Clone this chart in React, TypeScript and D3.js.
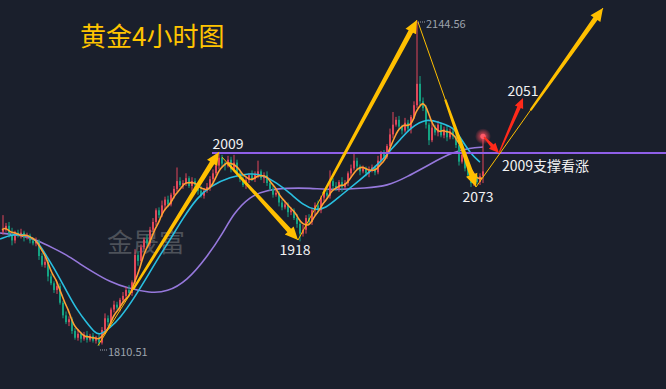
import React from 'react';
import * as d3 from 'd3';

const W = 666;
const H = 389;

// ---- candle data (gold, 4h) ----
const firstOpen = 1928;
const closes = [
  1930, 1934, 1926, 1919, 1927, 1924, 1927, 1922, 1924, 1919,
  1916, 1918, 1903, 1894, 1897, 1882, 1875, 1868, 1872, 1855,
  1842, 1835, 1838, 1826, 1819, 1823, 1818, 1822, 1817, 1821,
  1816, 1819, 1814, 1827, 1839, 1835, 1848, 1853, 1850, 1858,
  1862, 1868, 1865, 1876, 1904, 1898, 1912, 1920, 1916, 1930,
  1938, 1950, 1945, 1955, 1961, 1956, 1966, 1972, 1980, 1976,
  1978, 1983, 1975, 1980, 1976, 1970, 1965, 1970, 1974, 1982,
  1988, 1996, 2004, 1998, 1996, 2002, 1992, 1999, 1988, 1982,
  1976, 1981, 1986, 1982, 1987, 1990, 1983, 1986, 1978, 1972,
  1966, 1968, 1958, 1953, 1956, 1948, 1950, 1942, 1936, 1926,
  1930, 1942, 1938, 1950, 1955, 1950, 1963, 1968, 1965, 1980,
  1975, 1972, 1979, 1974, 1978, 1988, 1993, 2001, 1995, 1990,
  1993, 1988, 1991, 1994, 1989, 2001, 2008, 2005, 2016, 2028,
  2038, 2043, 2036, 2032, 2040, 2034, 2046, 2058, 2080, 2062,
  2055, 2038, 2022, 2035, 2030, 2038, 2027, 2033, 2025, 2031,
  2026, 2017, 2000, 2007, 1993, 1986, 1978, 1984, 1979, 1985,
  1990,
];
const upperWicks = [
  15, 3, 4, 6, 2, 3, 4, 2, 3, 2,
  3, 4, 2, 3, 5, 2, 3, 2, 4, 3,
  2, 4, 3, 2, 3, 5, 2, 3, 4, 2,
  3, 2, 4, 3, 5, 3, 2, 4, 3, 2,
  4, 3, 5, 2, 6, 4, 3, 2, 5, 3,
  4, 2, 3, 5, 3, 4, 2, 3, 14, 4,
  3, 5, 2, 4, 3, 2, 5, 3, 4, 3,
  4, 3, 5, 3, 2, 4, 3, 8, 3, 2,
  4, 3, 2, 5, 3, 11, 2, 3, 4, 2,
  3, 5, 2, 3, 4, 2, 3, 2, 4, 3,
  5, 3, 4, 2, 3, 5, 2, 3, 4, 11,
  3, 4, 2, 5, 3, 2, 4, 7, 3, 2,
  3, 2, 4, 3, 2, 5, 3, 4, 2, 6,
  13, 3, 4, 2, 5, 3, 2, 4, 64.56, 8,
  4, 3, 2, 5, 3, 4, 2, 3, 4, 3,
  2, 4, 3, 2, 3, 4, 2, 3, 2, 3,
  36,
];
const lowerWicks = [
  3, 2, 4, 5, 3, 2, 3, 4, 2, 3,
  2, 3, 4, 2, 3, 5, 2, 3, 4, 2,
  3, 2, 4, 3, 2, 3, 4, 2, 3, 2,
  2, 3, 3.49, 2, 3, 4, 2, 3, 2, 4,
  3, 2, 4, 3, 2, 5, 3, 2, 4, 3,
  2, 4, 3, 2, 5, 3, 2, 4, 3, 2,
  4, 3, 2, 5, 3, 4, 2, 3, 2, 4,
  3, 2, 4, 3, 5, 2, 3, 2, 4, 3,
  2, 4, 3, 2, 3, 4, 2, 5, 3, 2,
  3, 2, 4, 3, 2, 5, 3, 2, 4, 8,
  3, 4, 2, 3, 5, 2, 3, 4, 2, 3,
  4, 2, 3, 5, 2, 3, 4, 2, 3, 4,
  2, 3, 4, 2, 3, 2, 4, 3, 2, 3,
  4, 2, 3, 4, 2, 3, 5, 2, 3, 4,
  3, 4, 5, 2, 3, 4, 2, 3, 4, 2,
  3, 3, 4, 2, 3, 2, 4, 3, 2, 3,
  7,
];

// ---- moving averages: [candle index, price] ----
const shortMaWindow = 5;
const cyanMa: [number, number][] = [
  [-0.67, 1920.5], [3.67, 1925.6], [8.33, 1924.6], [11.67, 1919.4], [15, 1902.0],
  [18.33, 1885.5], [21.67, 1866.0], [25, 1847.5], [28.33, 1834.1], [31, 1823.9],
  [32.67, 1821.8], [36, 1829.0], [39.33, 1839.3], [43.67, 1857.8], [49.33, 1886.5],
  [52.67, 1904.0], [56, 1919.4], [60.33, 1942.0], [65, 1962.6], [69.33, 1974.9],
  [76, 1984.2], [82.67, 1988.3], [87, 1986.2], [91.67, 1978.0], [96, 1967.7],
  [100.33, 1955.4], [104.33, 1950.3], [107.67, 1951.3], [112.67, 1964.7], [119.33, 1981.1],
  [126, 1998.6], [130.33, 2015.0], [132.67, 2022.2], [136, 2034.5], [141.67, 2044.8],
  [146, 2039.7], [150.33, 2035.6], [152.67, 2025.3], [156, 2008.8], [159.33, 1999.6],
];
const purpleMa: [number, number][] = [
  [-0.67, 1926.6], [6, 1924.6], [11.67, 1919.4], [17, 1911.2], [21.67, 1904.0],
  [26, 1894.8], [30.33, 1886.5], [36, 1876.3], [41.67, 1870.1], [49.33, 1865.0],
  [55, 1866.0], [61.67, 1877.3], [68.33, 1902.0], [73.67, 1926.6], [77, 1946.0],
  [82.67, 1964.7], [88.33, 1970.8], [95, 1972.9], [102.67, 1972.9], [110.33, 1970.8],
  [121.67, 1972.9], [128.33, 1974.9], [135, 1984.2], [142.67, 1997.5], [150.33, 2009.9],
  [156, 2014.0], [160.33, 2015.0],
];

// ---- annotations ----
const supportLevel = 2009;
const supportStartIdx = 70;
const yellowArrows = [
  { from: [32, 1811], to: [72.33, 2010], thickFrom: 0.29 },
  { from: [73.33, 2004.7], to: [98.67, 1919.4], thickFrom: 0.08 },
  { from: [98.67, 1919.4], to: [138.33, 2145.5], thickFrom: 0.21 },
  { from: [138.67, 2143.5], to: [158, 1973.9], thickFrom: 0.47 },
  { from: [158, 1973.9], to: [200.33, 2157.9], thickFrom: 0.43 },
];
const redArrows = [
  { from: [160.67, 2025.3], to: [165.67, 2008.8] },
  { from: [165.67, 2008.8], to: [173.67, 2065.4] },
];
const markerLabels = [
  { text: '2009', idx: 75.33, price: 2013.0, anchor: 'middle' },
  { text: '1918', idx: 97.67, price: 1904.0, anchor: 'middle' },
  { text: '2073', idx: 158.67, price: 1958.5, anchor: 'middle' },
  { text: '2051', idx: 173.67, price: 2067.4, anchor: 'middle' },
  { text: '2009支撑看涨', idx: 166.67, price: 1990.4, anchor: 'start' },
];
const extremeLabels = [
  { text: '2144.56', idx: 138, price: 2144.56, dy: 7 },
  { text: '1810.51', idx: 32, price: 1810.51, dy: 10 },
];
const titleText = '黄金4小时图';
const watermarkText = '金晟富';

const COLORS = {
  bg: '#1a1f2c',
  up: '#e0475a',
  down: '#14a383',
  orange: '#ffa033',
  cyan: '#29bfe0',
  purple: '#9678dc',
  support: '#8f5fe8',
  yellow: '#ffbf00',
  red: '#ff2a1a',
  title: '#ffc400',
  label: '#f2f2f2',
  gray: '#9da3ad',
  watermark: '#4d5159',
};

function arrowPath(
  x0: number, y0: number, x1: number, y1: number,
  w0: number, w1: number, hl: number, hw: number,
) {
  const dx = x1 - x0;
  const dy = y1 - y0;
  const len = Math.hypot(dx, dy);
  const ux = dx / len;
  const uy = dy / len;
  const nx = -uy;
  const ny = ux;
  const bx = x1 - ux * hl;
  const by = y1 - uy * hl;
  const pts = [
    [x0 + (nx * w0) / 2, y0 + (ny * w0) / 2],
    [bx + (nx * w1) / 2, by + (ny * w1) / 2],
    [bx + (nx * hw) / 2, by + (ny * hw) / 2],
    [x1, y1],
    [bx - (nx * hw) / 2, by - (ny * hw) / 2],
    [bx - (nx * w1) / 2, by - (ny * w1) / 2],
    [x0 - (nx * w0) / 2, y0 - (ny * w0) / 2],
  ];
  return 'M' + pts.map((p) => p[0].toFixed(2) + ',' + p[1].toFixed(2)).join('L') + 'Z';
}

export default function App() {
  const x = d3.scaleLinear().domain([0, 160]).range([2, 482]);
  const y = d3.scaleLinear().domain([1810.51, 2144.56]).range([346, 21]);

  const candles = closes.map((c, i) => {
    const o = i === 0 ? firstOpen : closes[i - 1];
    return {
      i,
      o,
      c,
      h: Math.max(o, c) + upperWicks[i],
      l: Math.min(o, c) - lowerWicks[i],
    };
  });

  const orangeMa: [number, number][] = closes.map((_, i) => [
    i,
    d3.mean(closes.slice(Math.max(0, i - shortMaWindow + 1), i + 1)) as number,
  ]);

  const smoothLine = d3
    .line<[number, number]>()
    .x((d) => x(d[0]))
    .y((d) => y(d[1]))
    .curve(d3.curveBasis);

  const font = "'Noto Sans CJK SC', 'Noto Sans', sans-serif";
  const last = candles[candles.length - 1];

  return (
    <svg
      width={W}
      height={H}
      style={{ position: 'fixed', left: 0, top: 0, display: 'block' }}
      xmlns="http://www.w3.org/2000/svg"
    >
      <defs>
        <radialGradient id="glow">
          <stop offset="0%" stopColor="#ff5a6a" stopOpacity={0.95} />
          <stop offset="45%" stopColor="#ff4a5a" stopOpacity={0.55} />
          <stop offset="100%" stopColor="#ff4a5a" stopOpacity={0} />
        </radialGradient>
      </defs>
      <rect x={0} y={0} width={W} height={H} fill={COLORS.bg} />

      <text x={107} y={252} fontFamily={font} fontSize={26} fill={COLORS.watermark}>
        {watermarkText}
      </text>

      <text x={80} y={46} fontFamily={font} fontSize={26} fill={COLORS.title}>
        {titleText}
      </text>

      <path d={smoothLine(purpleMa) || ''} fill="none" stroke={COLORS.purple} strokeWidth={1.6} />

      <g>
        {candles.map((d) => {
          const col = d.c >= d.o ? COLORS.up : COLORS.down;
          const cx = x(d.i);
          const top = y(Math.max(d.o, d.c));
          const bot = y(Math.min(d.o, d.c));
          return (
            <g key={d.i}>
              <line x1={cx + 1} x2={cx + 1} y1={y(d.h)} y2={y(d.l)} stroke={col} strokeWidth={1} />
              <rect x={cx} y={top} width={2} height={Math.max(1, bot - top)} fill={col} />
            </g>
          );
        })}
      </g>

      <path d={smoothLine(cyanMa) || ''} fill="none" stroke={COLORS.cyan} strokeWidth={1.6} />
      <path d={smoothLine(orangeMa) || ''} fill="none" stroke={COLORS.orange} strokeWidth={1.6} />

      <line
        x1={x(supportStartIdx)}
        x2={W}
        y1={y(supportLevel)}
        y2={y(supportLevel)}
        stroke={COLORS.support}
        strokeWidth={2}
      />

      {yellowArrows.map((a, k) => {
        const x0 = x(a.from[0]);
        const y0 = y(a.from[1]);
        const x1 = x(a.to[0]);
        const y1 = y(a.to[1]);
        const sx = x0 + (x1 - x0) * a.thickFrom;
        const sy = y0 + (y1 - y0) * a.thickFrom;
        return (
          <g key={k}>
            <line x1={x0} y1={y0} x2={x1} y2={y1} stroke={COLORS.yellow} strokeWidth={1} />
            <path d={arrowPath(sx, sy, x1, y1, 2.2, 5, 13, 12)} fill={COLORS.yellow} />
          </g>
        );
      })}

      <circle cx={x(last.i) + 1} cy={y(last.h)} r={8} fill="url(#glow)" />
      <circle cx={x(last.i) + 1} cy={y(last.h)} r={2.6} fill="#ff5a68" />

      {redArrows.map((a, k) => (
        <path
          key={k}
          d={arrowPath(x(a.from[0]), y(a.from[1]), x(a.to[0]), y(a.to[1]), 1.2, 3.8, 10, 9)}
          fill={COLORS.red}
        />
      ))}

      {markerLabels.map((l, k) => (
        <text
          key={k}
          x={x(l.idx)}
          y={y(l.price)}
          textAnchor={l.anchor as any}
          fontFamily={font}
          fontSize={14}
          fill={COLORS.label}
        >
          {l.text}
        </text>
      ))}

      {extremeLabels.map((l, k) => (
        <g key={k}>
          <line
            x1={x(l.idx) + 2}
            x2={x(l.idx) + 9}
            y1={y(l.price) + l.dy - 6}
            y2={y(l.price) + l.dy - 6}
            stroke={COLORS.gray}
            strokeWidth={1}
            strokeDasharray="1,1"
          />
          <text
            x={x(l.idx) + 10}
            y={y(l.price) + l.dy}
            fontFamily={font}
            fontSize={11}
            fill={COLORS.gray}
          >
            {l.text}
          </text>
        </g>
      ))}
    </svg>
  );
}
